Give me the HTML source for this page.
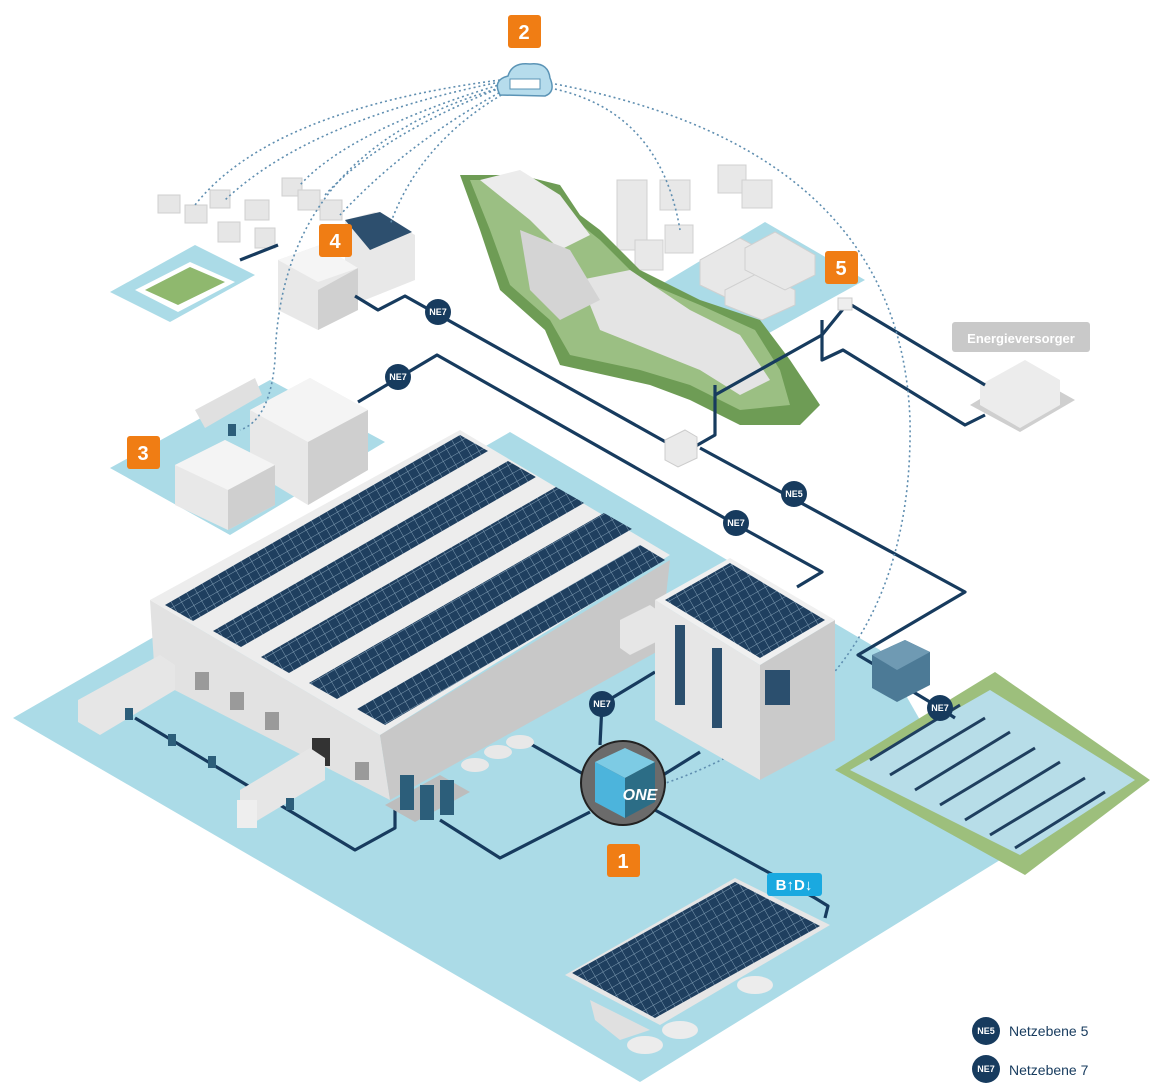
<!DOCTYPE html>
<html><head><meta charset="utf-8"><style>
html,body{margin:0;padding:0;background:#fff;}
svg{display:block;font-family:"Liberation Sans",sans-serif;}
</style></head><body>
<svg width="1160" height="1090" viewBox="0 0 1160 1090" xmlns="http://www.w3.org/2000/svg">
<defs>
<pattern id="pv" width="9" height="9" patternUnits="userSpaceOnUse" patternTransform="rotate(-30)">
<rect width="9" height="9" fill="#1f3f5f"/><path d="M0 0H9M0 0V9" stroke="#7f9cb3" stroke-width="1"/>
</pattern>
</defs>
<!-- main ground -->
<polygon points="13,718 510,432 880,650 1000,860 640,1082" fill="#abdbe7"/>
<!-- solar field -->
<polygon points="835,770 995,672 1150,780 1025,875" fill="#9dbf7c"/>
<polygon points="850,770 990,690 1135,780 1020,855" fill="#b7dde8"/>
<g stroke="#1f3f5f" stroke-width="3">
<path d="M870,760 L960,705 M890,775 L985,718 M915,790 L1010,732 M940,805 L1035,748 M965,820 L1060,762 M990,835 L1085,778 M1015,848 L1105,792"/>
</g>
<!-- area 3 -->
<polygon points="110,468 270,380 385,442 230,535" fill="#abdbe7"/>
<polygon points="250,410 310,378 368,410 368,470 308,505 250,470" fill="#e8e8e8"/>
<polygon points="250,410 308,442 368,410 310,378" fill="#f4f4f4"/>
<polygon points="308,442 368,410 368,470 308,505" fill="#cfcfcf"/>
<polygon points="175,465 225,440 275,465 275,505 228,530 175,505" fill="#e8e8e8"/>
<polygon points="175,465 228,490 275,465 225,440" fill="#f4f4f4"/>
<polygon points="228,490 275,465 275,505 228,530" fill="#cfcfcf"/>
<polygon points="195,410 255,378 262,395 205,428" fill="#e0e0e0"/>
<!-- area 4 -->
<polygon points="110,292 195,245 255,275 170,322" fill="#abdbe7"/>
<polygon points="135,290 190,262 235,282 178,312" fill="#fff"/>
<polygon points="145,290 190,267 225,282 178,305" fill="#8fb86e"/>
<g fill="#e6e6e6" stroke="#cfcfcf">
<rect x="158" y="195" width="22" height="18"/><rect x="185" y="205" width="22" height="18"/><rect x="210" y="190" width="20" height="18"/><rect x="218" y="222" width="22" height="20"/><rect x="245" y="200" width="24" height="20"/><rect x="255" y="228" width="20" height="20"/><rect x="282" y="178" width="20" height="18"/><rect x="298" y="190" width="22" height="20"/><rect x="320" y="200" width="22" height="20"/>
</g>
<polygon points="345,220 375,212 415,235 415,280 365,300 345,290" fill="#e8e8e8"/>
<polygon points="345,220 380,212 412,232 370,250" fill="#2d4f6e"/>
<polygon points="278,260 320,245 358,268 358,310 318,330 278,310" fill="#e8e8e8"/>
<polygon points="318,290 358,268 358,310 318,330" fill="#d0d0d0"/>
<polygon points="278,260 318,282 358,268 320,245" fill="#f5f5f5"/>
<!-- area 5 -->
<polygon points="660,285 765,222 865,280 760,338" fill="#abdbe7"/>
<g fill="#e8e8e8" stroke="#d0d0d0">
<polygon points="700,260 740,238 790,265 790,290 752,310 700,285"/>
<polygon points="725,290 760,272 795,290 795,305 762,320 725,305"/>
<polygon points="745,248 775,232 815,255 815,275 785,290 745,270"/>
<rect x="617" y="180" width="30" height="70"/><rect x="635" y="240" width="28" height="30"/><rect x="660" y="180" width="30" height="30"/><rect x="665" y="225" width="28" height="28"/><rect x="718" y="165" width="28" height="28"/><rect x="742" y="180" width="30" height="28"/>
</g>
<!-- mountain -->
<polygon points="460,175 520,175 560,185 580,215 600,230 640,270 700,300 760,320 790,360 820,405 800,425 740,425 690,400 650,385 560,365 545,330 500,290 480,230" fill="#6e9c55"/>
<polygon points="470,180 515,180 555,192 575,220 600,240 640,280 700,305 755,330 780,370 790,405 740,410 690,385 640,370 570,355 550,320 510,285 490,230" fill="#9bbf83"/>
<polygon points="480,180 520,170 560,195 590,235 560,250 530,220" fill="#ececec"/>
<polygon points="580,280 630,270 690,310 740,335 770,380 740,395 700,370 650,350 600,330" fill="#e4e4e4"/>
<polygon points="520,230 570,250 600,300 560,320 530,290" fill="#d4d4d4"/>
<!-- Energieversorger -->
<rect x="952" y="322" width="138" height="30" rx="3" fill="#c9c9c9"/>
<text x="1021" y="343" text-anchor="middle" font-size="13" font-weight="bold" fill="#fff">Energieversorger</text>
<polygon points="970,405 1025,372 1075,400 1020,432" fill="#cfcfcf"/>
<polygon points="980,385 1025,360 1060,380 1060,405 1020,428 980,405" fill="#ececec"/>
<!-- network lines -->
<g fill="none" stroke="#173b5e" stroke-width="3.2" stroke-linejoin="round">
<path d="M240,260 L278,245"/>
<path d="M355,296 L378,310 L405,296 L680,450"/>
<path d="M358,402 L437,355 L735,524 L822,572 L797,587"/>
<path d="M700,448 L965,592 L858,655 L880,668"/>
<path d="M715,385 L715,435 L680,455"/>
<path d="M715,395 L822,335 L848,303 L985,385"/>
<path d="M822,320 L822,360 L843,350 L965,425 L985,415"/>
<path d="M135,718 L355,850 L395,828 L395,805"/>
<path d="M440,820 L500,858 L590,812"/>
<path d="M520,738 L585,775"/>
<path d="M655,780 L700,752"/>
<path d="M600,745 L602,704 L655,672"/>
<path d="M655,810 L815,898 L828,906 L825,918"/>
<path d="M910,690 L940,708 L955,718"/>
</g>
<!-- dotted arcs -->
<g fill="none" stroke="#5f8eb0" stroke-width="1.6" stroke-dasharray="2,3">
<path d="M500,80 Q270,110 195,205"/>
<path d="M500,82 Q310,120 225,200"/>
<path d="M502,84 Q350,130 300,185"/>
<path d="M505,86 Q380,135 325,195"/>
<path d="M508,88 Q410,140 340,215"/>
<path d="M510,90 Q420,140 390,225"/>
<path d="M500,88 Q280,150 275,360 Q270,420 240,430"/>
<path d="M550,88 Q660,110 680,230"/>
<path d="M555,84 Q900,150 910,420 Q915,700 660,785"/>
</g>
<!-- warehouse -->
<polygon points="150,600 380,735 390,800 155,680" fill="#e2e2e2"/>
<polygon points="380,735 670,560 660,650 390,800" fill="#c8c8c8"/>
<polygon points="150,600 460,430 670,555 380,735" fill="#ededed"/>
<g fill="url(#pv)">
<polygon points="165,605 460,435 488,451 193,621"/>
<polygon points="213,631 508,461 536,477 241,647"/>
<polygon points="261,657 556,487 584,503 289,673"/>
<polygon points="309,683 604,513 632,529 337,699"/>
<polygon points="357,709 640,545 665,560 385,725"/>
</g>
<g fill="#9a9a9a"><rect x="195" y="672" width="14" height="18"/><rect x="230" y="692" width="14" height="18"/><rect x="265" y="712" width="14" height="18"/><rect x="355" y="762" width="14" height="18"/></g>
<rect x="312" y="738" width="18" height="28" fill="#333"/>
<!-- trucks -->
<polygon points="78,700 160,655 175,665 175,690 100,735 78,722" fill="#e6e6e6"/>
<polygon points="240,790 310,748 325,758 325,780 255,822 240,812" fill="#e6e6e6"/>
<rect x="237" y="800" width="20" height="28" fill="#eee"/>
<!-- batteries -->
<polygon points="385,805 440,775 470,792 415,822" fill="#bdbdbd"/>
<g fill="#2c5e7a"><rect x="400" y="775" width="14" height="35"/><rect x="420" y="785" width="14" height="35"/><rect x="440" y="780" width="14" height="35"/></g>
<g fill="#e8e8e8"><ellipse cx="475" cy="765" rx="14" ry="7"/><ellipse cx="498" cy="752" rx="14" ry="7"/><ellipse cx="520" cy="742" rx="14" ry="7"/></g>
<g fill="#2c5e7a"><rect x="125" y="708" width="8" height="12"/><rect x="168" y="734" width="8" height="12"/><rect x="208" y="756" width="8" height="12"/><rect x="286" y="798" width="8" height="12"/><rect x="228" y="424" width="8" height="12"/></g>
<!-- connector building -->
<polygon points="620,620 650,605 660,612 660,640 630,655 620,648" fill="#e6e6e6"/>
<!-- tower -->
<polygon points="655,600 760,665 760,780 655,720" fill="#e6e6e6"/>
<polygon points="760,665 835,620 835,740 760,780" fill="#cacaca"/>
<polygon points="655,600 730,558 835,620 760,665" fill="#f0f0f0"/>
<polygon points="665,600 730,563 825,620 760,658" fill="url(#pv)"/>
<g fill="#2b4f6e"><rect x="675" y="625" width="10" height="80"/><rect x="712" y="648" width="10" height="80"/><rect x="765" y="670" width="25" height="35"/></g>
<!-- container -->
<polygon points="872,655 905,640 930,652 930,685 897,702 872,688" fill="#4c7a96"/>
<polygon points="872,655 897,670 930,652 905,640" fill="#6f9ab3"/>
<!-- box near mountain -->
<polygon points="665,440 685,430 697,437 697,458 678,467 665,460" fill="#eaeaea" stroke="#ccc"/>
<rect x="838" y="298" width="14" height="12" fill="#eee" stroke="#ccc"/>
<!-- carport -->
<polygon points="565,975 735,878 830,925 660,1025" fill="#e6e6e6"/>
<polygon points="572,973 735,882 820,926 655,1018" fill="url(#pv)"/>
<polygon points="590,1000 650,1030 620,1040 595,1020" fill="#e0e0e0"/>
<g fill="#ececec"><ellipse cx="645" cy="1045" rx="18" ry="9"/><ellipse cx="680" cy="1030" rx="18" ry="9"/><ellipse cx="755" cy="985" rx="18" ry="9"/></g>
<!-- cloud -->
<path d="M500,95 Q492,80 508,76 Q512,62 530,64 Q548,62 550,78 Q556,92 545,96 Z" fill="#b6dcec" stroke="#5b94b6" stroke-width="1.5"/>
<rect x="510" y="79" width="30" height="10" fill="#fff" stroke="#5b94b6"/>
<!-- ONE -->
<circle cx="623" cy="783" r="42" fill="#6b6b6b" stroke="#222" stroke-width="2"/>
<polygon points="595,762 625,748 655,762 625,778" fill="#7dcbe4"/>
<polygon points="595,762 625,778 625,818 595,802" fill="#4cb4dc"/>
<polygon points="625,778 655,762 655,802 625,818" fill="#2c6d86"/>
<text x="640" y="800" text-anchor="middle" font-size="16" font-weight="bold" font-style="italic" fill="#fff">ONE</text>
<!-- NE labels -->
<g font-size="9" font-weight="bold" fill="#fff" text-anchor="middle">
<circle cx="438" cy="312" r="13" fill="#173b5e"/><text x="438" y="315">NE7</text>
<circle cx="398" cy="377" r="13" fill="#173b5e"/><text x="398" y="380">NE7</text>
<circle cx="794" cy="494" r="13" fill="#173b5e"/><text x="794" y="497">NE5</text>
<circle cx="736" cy="523" r="13" fill="#173b5e"/><text x="736" y="526">NE7</text>
<circle cx="602" cy="704" r="13" fill="#173b5e"/><text x="602" y="707">NE7</text>
<circle cx="940" cy="708" r="13" fill="#173b5e"/><text x="940" y="711">NE7</text>
<circle cx="986" cy="1031" r="14" fill="#173b5e"/><text x="986" y="1034">NE5</text>
<circle cx="986" cy="1069" r="14" fill="#173b5e"/><text x="986" y="1072">NE7</text>
</g>
<text x="1009" y="1036" font-size="14" fill="#173b5e">Netzebene 5</text>
<text x="1009" y="1075" font-size="14" fill="#173b5e">Netzebene 7</text>
<!-- BtDt -->
<rect x="767" y="873" width="55" height="23" rx="3" fill="#1aa9e0"/>
<text x="794" y="890" text-anchor="middle" font-size="15" font-weight="bold" fill="#fff">B↑D↓</text>
<!-- orange badges -->
<g font-size="20" font-weight="bold" fill="#fff" text-anchor="middle">
<rect x="508" y="15" width="33" height="33" rx="3" fill="#f07d14"/><text x="524" y="39">2</text>
<rect x="127" y="436" width="33" height="33" rx="3" fill="#f07d14"/><text x="143" y="460">3</text>
<rect x="319" y="224" width="33" height="33" rx="3" fill="#f07d14"/><text x="335" y="248">4</text>
<rect x="825" y="251" width="33" height="33" rx="3" fill="#f07d14"/><text x="841" y="275">5</text>
<rect x="607" y="844" width="33" height="33" rx="3" fill="#f07d14"/><text x="623" y="868">1</text>
</g>
</svg>
</body></html>
